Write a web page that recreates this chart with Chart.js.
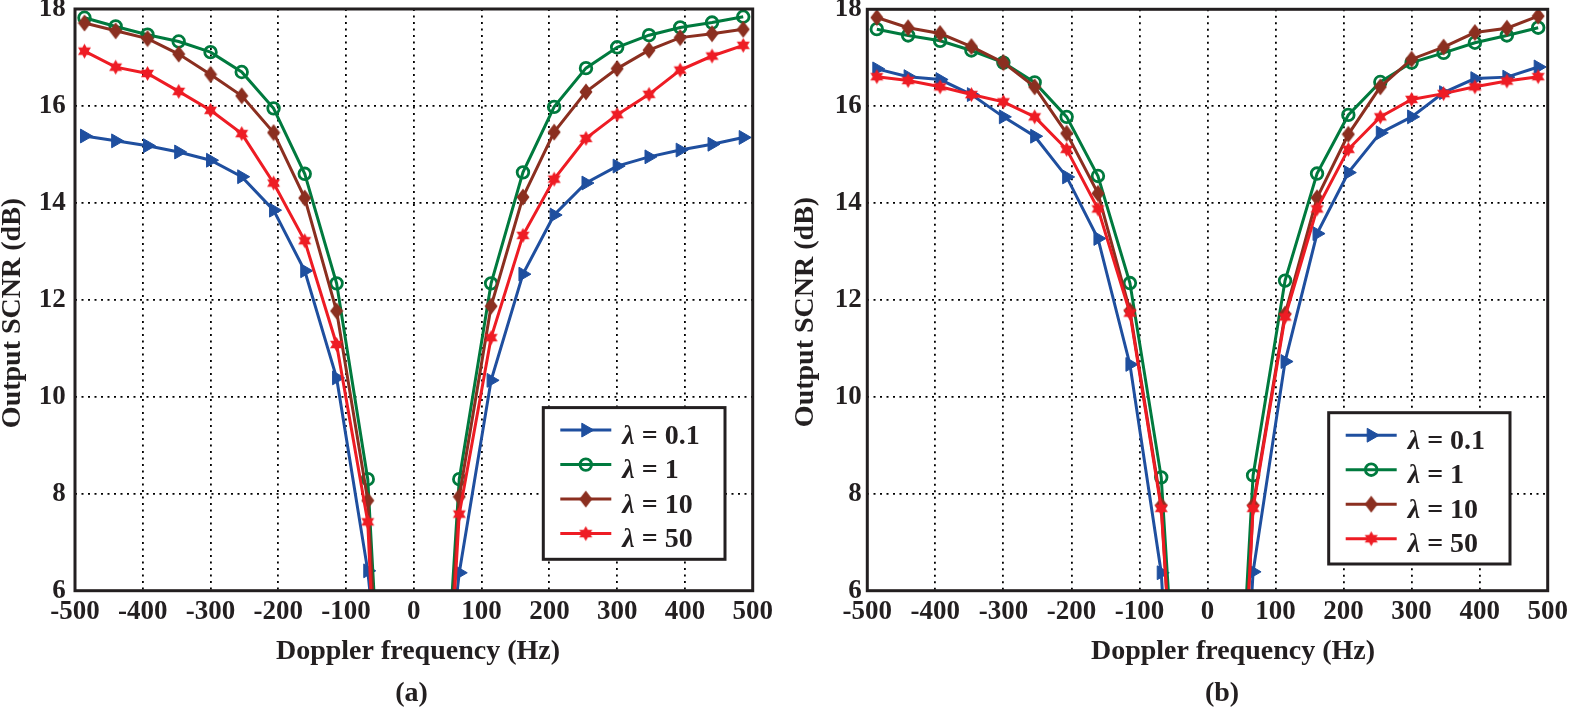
<!DOCTYPE html>
<html><head><meta charset="utf-8">
<script src="https://cdn.jsdelivr.net/npm/chart.js@4.4.0/dist/chart.umd.min.js"></script>
<style>
html,body{margin:0;padding:0;background:#fff;}
#wrap{position:relative;width:1572px;height:709px;overflow:hidden;background:#fff;}
canvas{position:absolute;top:0;}
</style></head><body>
<div id="wrap">
<canvas id="ca" width="790" height="709" style="left:0"></canvas>
<canvas id="cb" width="782" height="709" style="left:790px"></canvas>
</div>
<script>
// ---------- data ----------
const freqs = [-486,-440,-393,-347,-300,-254,-207,-161,-114,-68,-21,21,67,114,161,207,254,300,347,393,440,486];
const xTickValues = [-500,-400,-300,-200,-100,0,100,200,300,400,500];
const yTickValues = [6,8,10,12,14,16,18];
const seriesLabels = ['0.1','1','10','50'];

const blueA  = [15.38,15.28,15.18,15.05,14.88,14.54,13.85,12.60,10.39,6.41,0.0,0.7,6.37,10.34,12.53,13.75,14.41,14.76,14.95,15.09,15.21,15.35];
const greenA = [17.82,17.64,17.47,17.33,17.11,16.70,15.95,14.60,12.34,8.30,-3.7,-2.0,8.30,12.34,14.63,15.98,16.78,17.21,17.46,17.62,17.72,17.84];
const brownA = [17.71,17.55,17.39,17.07,16.65,16.21,15.45,14.10,11.77,7.86,-4.5,-3.0,7.94,11.87,14.12,15.46,16.29,16.77,17.15,17.41,17.49,17.58];
const redA   = [17.13,16.80,16.67,16.30,15.91,15.43,14.41,13.22,11.08,7.42,-7.1,-3.4,7.58,11.22,13.33,14.49,15.33,15.82,16.24,16.74,17.03,17.25];

const blueB  = [16.77,16.61,16.55,16.24,15.78,15.38,14.54,13.27,10.67,6.37,-4.4,-5.0,6.39,10.73,13.37,14.63,15.45,15.78,16.28,16.57,16.60,16.81];
const greenB = [17.59,17.46,17.35,17.15,16.90,16.49,15.78,14.56,12.35,8.34,-2.2,-3.3,8.38,12.40,14.61,15.82,16.50,16.90,17.10,17.31,17.46,17.62];
const brownB = [17.83,17.62,17.50,17.23,16.90,16.40,15.44,14.20,11.78,7.76,-2.6,-4.7,7.76,11.71,14.11,15.42,16.40,16.97,17.22,17.52,17.61,17.86];
const redB   = [16.61,16.53,16.40,16.24,16.09,15.78,15.11,13.88,11.73,7.70,-2.7,-4.7,7.70,11.65,13.88,15.11,15.78,16.14,16.26,16.40,16.52,16.61];

// ---------- styles ----------
const INK = '#231f20';
const FONT = "'Liberation Serif','Times New Roman',serif";
const colors = ['#1f4f9f','#007a3e','#8b2f20','#ee1c24'];

function starCanvas(color, R, r) {
  const s = Math.ceil(R*2+2); const c = document.createElement('canvas'); c.width = s; c.height = s;
  const x = c.getContext('2d'); x.fillStyle = color; x.beginPath();
  for (let k = 0; k < 12; k++) { const ang = -Math.PI/2 + k*Math.PI/6; const rr = k%2 ? r : R;
    x.lineTo(s/2 + rr*Math.cos(ang), s/2 + rr*Math.sin(ang)); }
  x.closePath(); x.fill(); return c;
}
function diamondCanvas(color, w, h) {
  const c = document.createElement('canvas'); c.width = w; c.height = h;
  const x = c.getContext('2d'); x.fillStyle = color; x.beginPath();
  x.moveTo(w/2, 0.5); x.lineTo(w-0.5, h/2); x.lineTo(w/2, h-0.5); x.lineTo(0.5, h/2); x.closePath(); x.fill();
  return c;
}
const markers = [
  {pointStyle:'triangle', radius:8, rotation:90, borderWidth:1, fill:colors[0]},
  {pointStyle:'circle', radius:5.8, rotation:0, borderWidth:2.8, fill:'rgba(255,255,255,0)'},
  {pointStyle:diamondCanvas(colors[2],14,18), radius:7, rotation:0, borderWidth:0, fill:colors[2]},
  {pointStyle:starCanvas(colors[3],7.5,4.2), radius:7, rotation:0, borderWidth:0, fill:colors[3]}
];

const framePlugin = {
  id:'frame',
  afterDatasetsDraw(chart, args, o) {
    const {ctx, chartArea:a} = chart;
    ctx.save();
    ctx.lineWidth = 3; ctx.strokeStyle = INK;
    ctx.strokeRect(a.left, a.top, a.right-a.left, a.bottom-a.top);
    // legend
    const L = o.legend;
    const bx = a.left + L.x, by = a.top + L.y;
    ctx.fillStyle = '#fff'; ctx.fillRect(bx, by, L.w, L.h);
    ctx.lineWidth = 3; ctx.strokeStyle = INK; ctx.strokeRect(bx, by, L.w, L.h);
    chart.data.datasets.forEach((ds, i) => {
      const y = by + 22.5 + 34.5*i;
      ctx.strokeStyle = ds.borderColor; ctx.lineWidth = 3;
      ctx.beginPath(); ctx.moveTo(bx+17, y); ctx.lineTo(bx+68, y); ctx.stroke();
      const m = markers[i];
      ctx.fillStyle = m.fill; ctx.strokeStyle = ds.borderColor; ctx.lineWidth = m.borderWidth;
      Chart.helpers.drawPoint(ctx, {pointStyle:m.pointStyle, radius:m.radius, rotation:m.rotation, borderWidth:m.borderWidth}, bx+42.5, y);
      ctx.fillStyle = INK; ctx.textBaseline = 'alphabetic'; ctx.textAlign = 'left';
      ctx.font = 'italic bold 28px ' + FONT;
      const tx = bx + 79, ty = y + 13.5;
      ctx.fillText('λ', tx, ty);
      const w = ctx.measureText('λ').width;
      ctx.font = 'bold 28px ' + FONT;
      ctx.fillText(' = ' + ds.label, tx + w, ty);
    });
    // titles
    ctx.fillStyle = INK; ctx.font = 'bold 28px ' + FONT; ctx.textAlign = 'center'; ctx.textBaseline = 'alphabetic';
    ctx.fillText('Doppler frequency (Hz)', o.xTitle.x, o.xTitle.y);
    ctx.fillText(o.panel.text, o.panel.x, o.panel.y);
    ctx.save(); ctx.translate(o.yTitle.x, o.yTitle.y); ctx.rotate(-Math.PI/2);
    ctx.textBaseline = 'middle'; ctx.fillText('Output SCNR (dB)', 0, 0); ctx.restore();
    ctx.restore();
  }
};

function buildChart(id, vals, g) {
  const datasets = seriesLabels.map((lab, i) => ({
    label: lab,
    data: freqs.map((f, j) => ({x:f, y:vals[i][j]})),
    borderColor: colors[i], borderWidth: 3, fill: false, tension: 0,
    pointStyle: markers[i].pointStyle, pointRadius: markers[i].radius, pointRotation: markers[i].rotation,
    pointBorderWidth: markers[i].borderWidth, pointBorderColor: colors[i], pointBackgroundColor: markers[i].fill,
    order: 4 - i
  }));
  const tickFont = {family: FONT, size: 27, weight: 'bold'};
  return new Chart(document.getElementById(id), {
    type: 'line',
    data: {datasets},
    options: {
      responsive: false, animation: false, events: [],
      layout: {padding: {left: 0, top: g.top, right: g.padRight, bottom: g.padBottom}},
      plugins: {legend: {display: false}, tooltip: {enabled: false}, frame: g},
      scales: {
        x: {type: 'linear', min: -500, max: 500,
            afterBuildTicks: s => { s.ticks = xTickValues.map(v => ({value: v})); },
            afterFit: s => { s.height = 60; s.paddingLeft = 0; s.paddingRight = 0; },
            grid: {color: '#000', lineWidth: 1.8, drawTicks: false},
            border: {display: false, dash: [2, 4.5]},
            ticks: {font: tickFont, color: INK, padding: g.xPad, maxRotation: 0, autoSkip: false, callback: v => String(v)}},
        y: {type: 'linear', min: 6, max: 18,
            afterBuildTicks: s => { s.ticks = yTickValues.map(v => ({value: v})); },
            afterFit: s => { s.width = g.left; s.paddingTop = 0; s.paddingBottom = 0; },
            grid: {color: '#000', lineWidth: 1.8, drawTicks: false},
            border: {display: false, dash: [2, 4.5]},
            ticks: {font: tickFont, color: INK, padding: g.yPad, autoSkip: false, callback: v => String(v)}}
      }
    },
    plugins: [framePlugin]
  });
}

buildChart('ca', [blueA, greenA, brownA, redA], {
  left: 75, top: 8.7, padRight: 37.3, padBottom: 58.3, xPad: 5, yPad: 9.3,
  legend: {x: 468.3, y: 398.6, w: 181.7, h: 151.7},
  xTitle: {x: 418, y: 659}, yTitle: {x: 13, y: 313}, panel: {text: '(a)', x: 411.5, y: 701}
});
buildChart('cb', [blueB, greenB, brownB, redB], {
  left: 77.3, top: 9.3, padRight: 24.3, padBottom: 58.3, xPad: 5, yPad: 5.6,
  legend: {x: 461.4, y: 403.4, w: 181.3, h: 151.3},
  xTitle: {x: 443, y: 659}, yTitle: {x: 16, y: 312}, panel: {text: '(b)', x: 432, y: 701}
});
</script>
</body></html>
